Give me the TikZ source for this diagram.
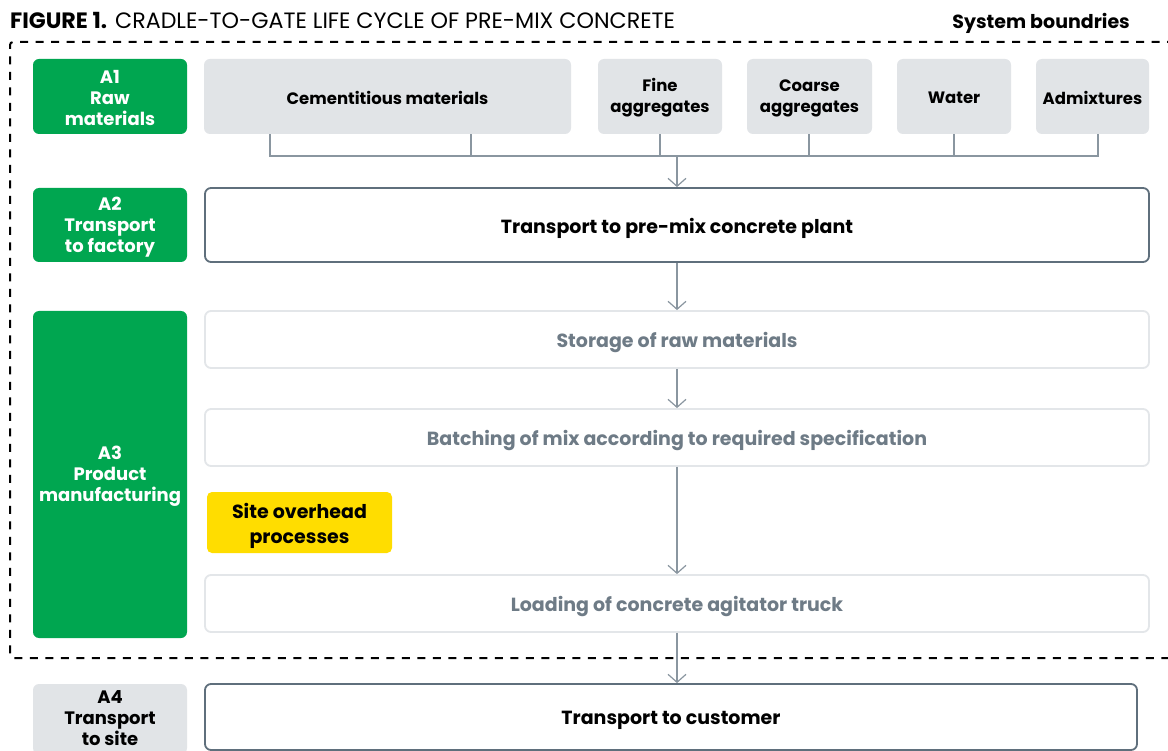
\documentclass[tikz,border=0pt]{standalone}
\usepackage{fontspec}
\setmainfont{Poppins}
\usetikzlibrary{arrows.meta}
\definecolor{agreen}{HTML}{00A650}
\definecolor{lgrey}{HTML}{E1E4E7}
\definecolor{dborder}{HTML}{5F6F7C}
\definecolor{lborder}{HTML}{E3E6E9}
\definecolor{gtext}{HTML}{6E7B86}
\definecolor{conncol}{HTML}{8A96A0}
\definecolor{ayellow}{HTML}{FFDD00}
\newcommand\mybox[7]{\node[#6, minimum width={(#4-#2)*1pt}, minimum height={(#5-#3)*1pt}, label={[#6 text]center:#7}] (#1) at ({(#2+#4)/2},{(#3+#5)/2}) {};}
\tikzset{
  base/.style={rounded corners=6pt, inner sep=0pt},
  basetext/.style={inner sep=0pt, align=center},
  stage/.style={base, fill=agreen},
  stage text/.style={basetext, text=white, font=\fontsize{18}{21}\selectfont\bfseries, yshift=-2pt},
  stagegrey/.style={base, fill=lgrey},
  stagegrey text/.style={basetext, text=black, font=\fontsize{18}{21}\selectfont\bfseries, yshift=0.5pt},
  input/.style={base, fill=lgrey},
  input text/.style={basetext, text=black, font=\fontsize{16.5}{21}\selectfont\bfseries, yshift=-1.5pt},
  mainbox/.style={base, draw=dborder, line width=1.8pt, fill=white},
  mainbox text/.style={basetext, text=black, font=\fontsize{19}{22}\selectfont\bfseries, yshift=-3pt},
  subbox/.style={base, draw=lborder, line width=1.8pt, fill=white},
  subbox text/.style={mainbox text, text=gtext},
  overhead/.style={base, fill=ayellow, rounded corners=5pt},
  overhead text/.style={basetext, text=black, font=\fontsize{19}{25}\selectfont\bfseries, yshift=-3.5pt},
  conn/.style={draw=conncol, line width=1.2pt},
  arr/.style={conn, -{Straight Barb[length=8pt,width=18pt]}},
  boundary/.style={line width=2pt, dash pattern=on 8pt off 7.5pt, rounded corners=3pt},
}
\begin{document}
\begin{tikzpicture}[x=1pt,y=-1pt]
\clip (0,0) rectangle (1168,751);
\fill[white] (0,0) rectangle (1168,751);
% title
\node[anchor=west, inner sep=0pt, font=\fontsize{22.2}{24}\selectfont] (title) at (10,20) {\textbf{FIGURE 1.} CRADLE-TO-GATE LIFE CYCLE OF PRE-MIX CONCRETE};
\node[anchor=east, inner sep=0pt, font=\fontsize{19}{22}\selectfont\bfseries] (sysb) at (1130,23) {System boundries};
% boundary
\draw[boundary] (1175,42) -- (10,42) -- (10,658) -- (1175,658);
% stage labels
\mybox{a1}{33}{59}{187}{134}{stage}{A1\\Raw\\materials}
\mybox{a2}{33}{188}{187}{262}{stage}{A2\\Transport\\to factory}
\mybox{a3}{33}{311}{187}{638}{stage}{A3\\Product\\manufacturing}
\mybox{a4}{33}{684}{187}{754}{stagegrey}{A4\\Transport\\to site}
% inputs
\mybox{cem}{204}{59}{571}{134}{input}{Cementitious materials}
\mybox{fine}{598}{59}{722}{134}{input}{Fine\\aggregates}
\mybox{coarse}{747}{59}{872}{134}{input}{Coarse\\aggregates}
\mybox{water}{897}{59}{1011}{134}{input}{Water}
\mybox{adm}{1036}{59}{1149}{134}{input}{Admixtures}
% process boxes
\mybox{tr1}{205}{188}{1149}{262}{mainbox}{Transport to pre-mix concrete plant}
\mybox{sto}{205}{311}{1149}{368}{subbox}{Storage of raw materials}
\mybox{bat}{205}{409}{1149}{466}{subbox}{Batching of mix according to required specification}
\mybox{site}{207}{492}{392}{553}{overhead}{Site overhead\\processes}
\mybox{load}{205}{575}{1149}{632}{subbox}{Loading of concrete agitator truck}
\mybox{cust}{205}{684}{1137}{750}{mainbox}{Transport to customer}
% bus
\coordinate (d1) at (270,156);
\coordinate (d2) at (471,156);
\coordinate (d3) at (660,156);
\coordinate (d4) at (809,156);
\coordinate (d5) at (954,156);
\coordinate (d6) at (1098,156);
\coordinate (dm) at (677,156);
\draw[conn] (cem.south -| d1) -- (d1) -- (d6) -- (adm.south -| d6);
\draw[conn] (cem.south -| d2) -- (d2);
\draw[conn] (fine.south -| d3) -- (d3);
\draw[conn] (coarse.south -| d4) -- (d4);
\draw[conn] (water.south -| d5) -- (d5);
\draw[arr] (dm) -- (tr1.north -| dm);
\draw[arr] (tr1.south -| dm) -- (sto.north -| dm);
\draw[arr] (sto.south -| dm) -- (bat.north -| dm);
\draw[arr] (bat.south -| dm) -- (load.north -| dm);
\draw[arr] (load.south -| dm) -- (cust.north -| dm);
\end{tikzpicture}
\end{document}
